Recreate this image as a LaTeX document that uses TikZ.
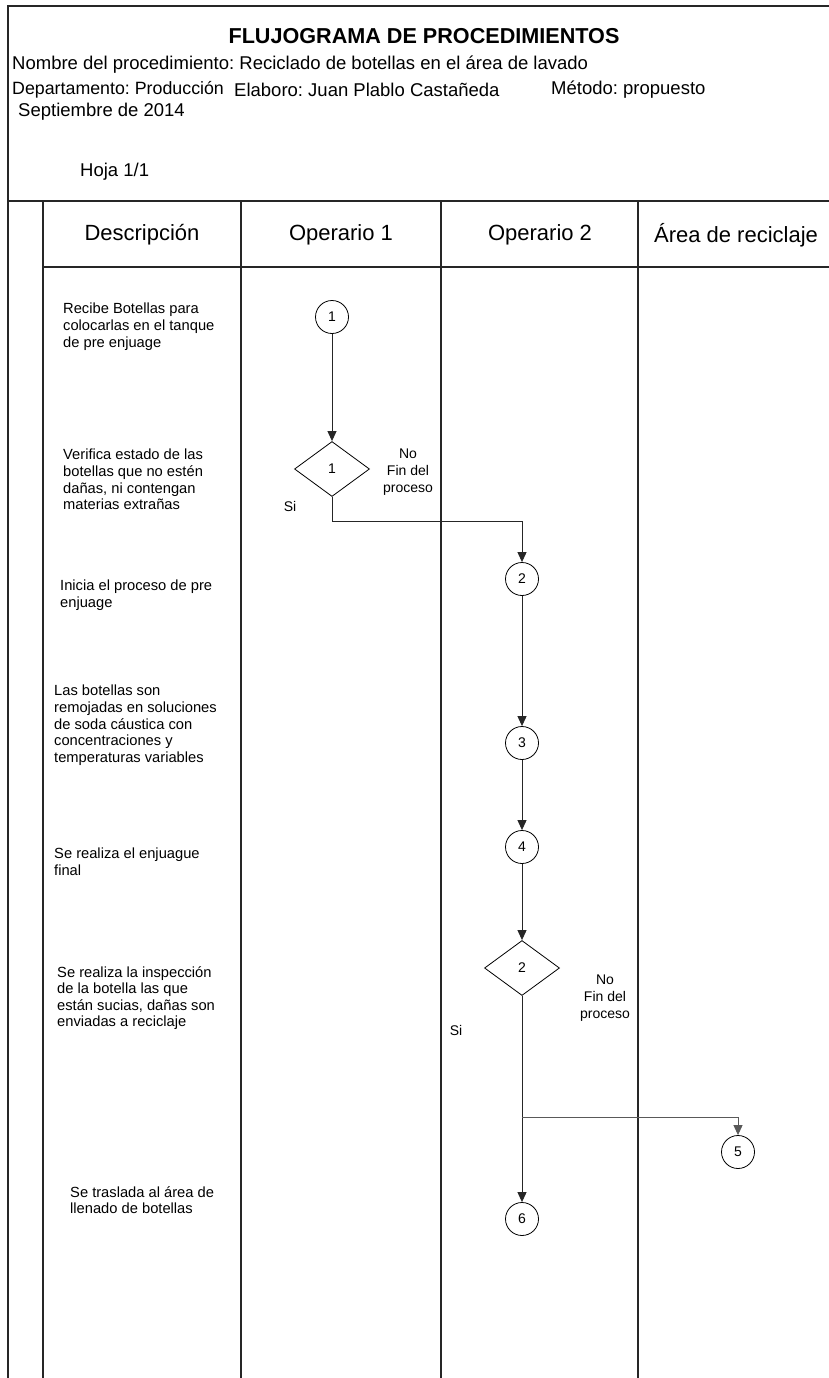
\documentclass[tikz,border=0pt]{standalone}
\usepackage{fontspec}
\setmainfont{Liberation Sans}
\usetikzlibrary{shapes.geometric,arrows.meta}
\frenchspacing
\begin{document}
\begin{tikzpicture}[x=1pt,y=-1pt,
  frame/.style={line width=1.2pt,draw=black!85},
  thickrule/.style={line width=2.4pt,draw=black!85},
  conn/.style={line width=0.9pt,draw=black!85,-{Triangle[length=10pt,width=9pt]}},
  circ/.style={circle,draw,line width=0.8pt,minimum size=33pt,inner sep=0pt,font=\fontsize{14}{16}\selectfont},
  dia/.style={diamond,draw,line width=0.8pt,minimum width=75pt,minimum height=55pt,inner sep=0pt,font=\fontsize{14}{16}\selectfont},
  desc/.style={anchor=north west,align=left,inner sep=0pt,font=\fontsize{14.7}{16.6}\selectfont},
  hdr/.style={anchor=west,inner sep=0pt,font=\fontsize{18.5}{20}\selectfont},
  colhdr/.style={inner sep=0pt,font=\fontsize{22}{24}\selectfont},
  lbl/.style={align=center,inner sep=0pt,font=\fontsize{14}{17}\selectfont}
]
\useasboundingbox (0,0) rectangle (829,1378);
% frame
\draw[frame] (829,6) -- (8,6) -- (8,1378);
\draw[thickrule] (8,201) -- (829,201);
\draw[frame] (43,201) -- (43,1378);
\draw[frame] (241,201) -- (241,1378);
\draw[frame] (441,201) -- (441,1378);
\draw[frame] (638,201) -- (638,1378);
\draw[frame] (43,267) -- (829,267);
% header texts
\node[inner sep=0pt,font=\fontsize{21.6}{24}\selectfont\bfseries] (title) at (424,36) {FLUJOGRAMA DE PROCEDIMIENTOS};
\node[hdr] (nombre) at (12,65) {Nombre del procedimiento: Reciclado de botellas en el área de lavado};
\node[hdr,font=\fontsize{17.8}{20}\selectfont] (depto) at (12,90) {Departamento: Producción};
\node[hdr] (elab) at (234,90) {Elaboro: Juan Plablo Castañeda};
\node[hdr] (metodo) at (551,90) {Método: propuesto};
\node[hdr] (fecha) at (18,112) {Septiembre de 2014};
\node[hdr] (hoja) at (80,172) {Hoja 1/1};
% column headers
\node[colhdr] (h1) at (142,235) {Descripción};
\node[colhdr] (h2) at (341,235) {Operario 1};
\node[colhdr] (h3) at (540,235) {Operario 2};
\node[colhdr] (h4) at (736,235) {Área de reciclaje};
% descriptions
\node[desc] (d1t) at (63,303) {Recibe Botellas para\\colocarlas en el tanque\\de pre enjuage};
\node[desc] (d2t) at (63,449) {Verifica estado de las\\botellas que no estén\\dañas, ni contengan\\materias extrañas};
\node[desc] (d3t) at (60,580) {Inicia el proceso de pre\\enjuage};
\node[desc] (d4t) at (54,685) {Las botellas son\\remojadas en soluciones\\de soda cáustica con\\concentraciones y\\temperaturas variables};
\node[desc] (d5t) at (54,848) {Se realiza el enjuague\\final};
\node[desc] (d6t) at (57,966) {Se realiza la inspección\\de la botella las que\\están sucias, dañas son\\enviadas a reciclaje};
\node[desc] (d7t) at (70,1186) {Se traslada al área de\\llenado de botellas};
% flow shapes
\node[circ] (c1) at (332,317) {1};
\node[dia] (q1) at (332,469) {1};
\node[circ] (c2) at (522,579) {2};
\node[circ] (c3) at (522,743) {3};
\node[circ] (c4) at (522,847) {4};
\node[dia] (q2) at (522,968) {2};
\node[circ] (c5) at (738,1152) {5};
\node[circ] (c6) at (522,1219) {6};
\coordinate (b1) at (332,521);
\coordinate (b2) at (522,521);
\coordinate (br) at (522,1117);
\coordinate (br5) at (738,1117);
% labels
\node[lbl] (no1) at (408,472) {No\\Fin del\\proceso};
\node[lbl] (si1) at (290,506) {Si};
\node[lbl] (no2) at (605,998) {No\\Fin del\\proceso};
\node[lbl] (si2) at (456,1030) {Si};
% connectors
\draw[conn] (c1) -- (q1);
\draw[conn] (q1.south) -- (b1) -- (b2) -- (c2);
\draw[conn] (c2) -- (c3);
\draw[conn] (c3) -- (c4);
\draw[conn] (c4) -- (q2);
\draw[conn] (q2.south) -- (c6);
\draw[conn,draw=black!65] (br) -- (br5) -- (c5);
\end{tikzpicture}
\end{document}
